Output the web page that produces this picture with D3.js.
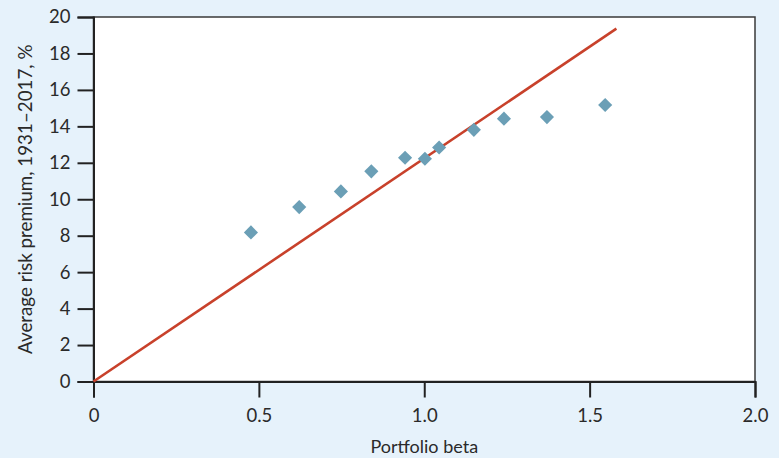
<!DOCTYPE html>
<html>
<head>
<meta charset="utf-8">
<script src="https://cdn.jsdelivr.net/npm/d3@7"></script>
<style>
  html, body { margin: 0; padding: 0; background: #e6f2fb; }
  svg { display: block; }
  text { font-family: Lato, "Open Sans", sans-serif; fill: #2a2a2a; }
</style>
</head>
<body>
<svg id="chart" width="779" height="458"></svg>
<script>
// Data
const betas =   [0.476, 0.622, 0.748, 0.840, 0.942, 1.002, 1.045, 1.150, 1.241, 1.371, 1.547];
const premiums = [8.18, 9.57, 10.43, 11.53, 12.28, 12.22, 12.84, 13.81, 14.42, 14.51, 15.17];
const smlBeta = [0, 1.581];
const smlPremium = [0, 19.36];
const xTicks = [0, 0.5, 1.0, 1.5, 2.0];
const xTickLabels = ["0", "0.5", "1.0", "1.5", "2.0"];
const yTicks = [0, 2, 4, 6, 8, 10, 12, 14, 16, 18, 20];
const xTitle = "Portfolio beta";
const yTitle = "Average risk premium, 1931–2017, %";

const svg = d3.select("#chart");
const W = 779, H = 458;
const m = { left: 93.5, right: 24, top: 17, bottom: 76.5 };

const x = d3.scaleLinear().domain([0, 2]).range([m.left, W - m.right]);
const y = d3.scaleLinear().domain([0, 20]).range([H - m.bottom, m.top]);

// background
svg.append("rect").attr("width", W).attr("height", H).attr("fill", "#e6f2fb");
// plot area
svg.append("rect")
  .attr("x", x(0)).attr("y", y(20))
  .attr("width", x(2) - x(0)).attr("height", y(0) - y(20))
  .attr("fill", "#ffffff")
  .attr("stroke", "#3a3a3a").attr("stroke-width", 1.5);

// axes
const yAxis = d3.axisLeft(y).tickValues(yTicks).tickSize(16).tickPadding(7).tickFormat(d3.format("d"));
const gy = svg.append("g").attr("transform", `translate(${x(0)},0)`).call(yAxis);
gy.select(".domain").attr("stroke", "#222").attr("stroke-width", 2);
gy.selectAll(".tick line").attr("stroke", "#222").attr("stroke-width", 2);
gy.selectAll(".tick text").attr("font-size", 18.5).attr("fill", "#2a2a2a")
  .style("font-family", "Lato, sans-serif");

const xAxis = d3.axisBottom(x).tickValues(xTicks).tickSize(16).tickPadding(11)
  .tickFormat((d, i) => xTickLabels[i]);
const gx = svg.append("g").attr("transform", `translate(0,${y(0)})`).call(xAxis);
gx.select(".domain").attr("stroke", "#222").attr("stroke-width", 2);
gx.selectAll(".tick line").attr("stroke", "#222").attr("stroke-width", 2);
gx.selectAll(".tick text").attr("font-size", 18.5).attr("fill", "#2a2a2a")
  .style("font-family", "Lato, sans-serif");

// security market line
const line = d3.line().x(d => x(d[0])).y(d => y(d[1]));
svg.append("path")
  .datum(d3.zip(smlBeta, smlPremium))
  .attr("d", line)
  .attr("fill", "none")
  .attr("stroke", "#c8412b")
  .attr("stroke-width", 2.6);

// points (diamonds)
const sym = d3.symbol().type(d3.symbolSquare).size(100);
svg.append("g").selectAll("path")
  .data(d3.zip(betas, premiums))
  .join("path")
  .attr("d", sym)
  .attr("transform", d => `translate(${x(d[0])},${y(d[1])}) rotate(45)`)
  .attr("fill", "#6b9fb6");

// titles
svg.append("text")
  .attr("x", x(1)).attr("y", 453)
  .attr("text-anchor", "middle").attr("font-size", 18)
  .text(xTitle);

svg.append("text")
  .attr("transform", `translate(32,${(y(0) + y(20)) / 2}) rotate(-90)`)
  .attr("text-anchor", "middle").attr("font-size", 18.8)
  .text(yTitle);
</script>
</body>
</html>
